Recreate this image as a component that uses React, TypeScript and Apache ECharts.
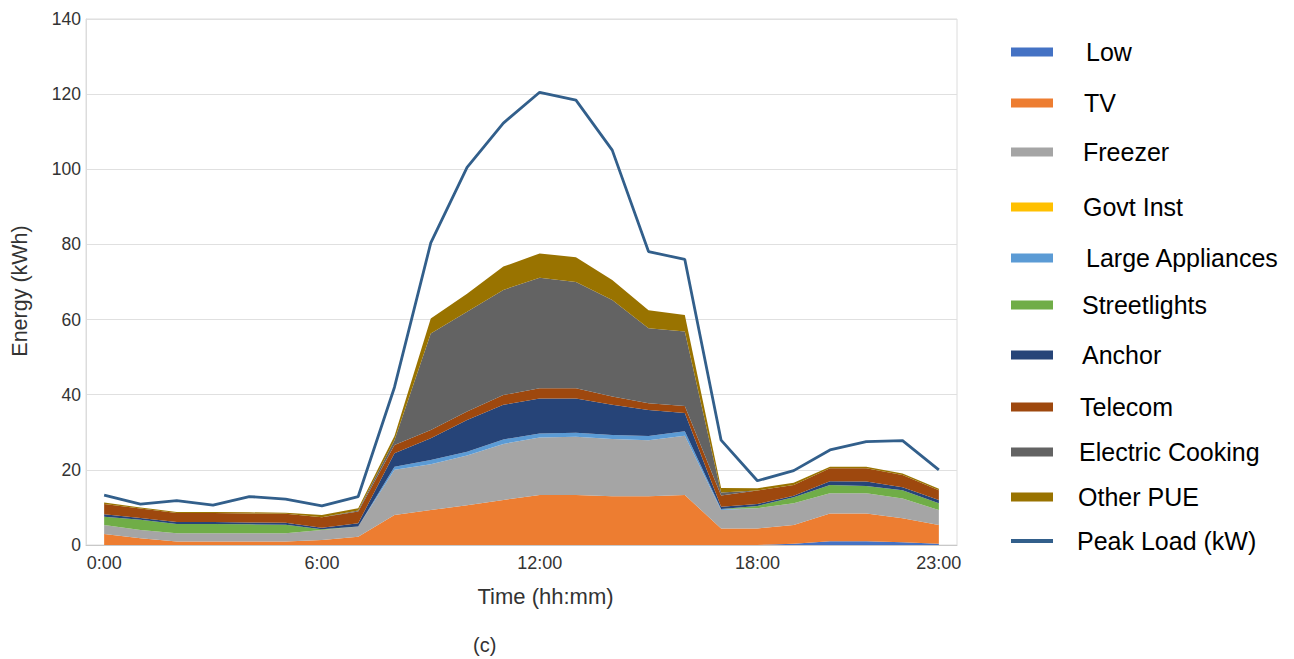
import React, { useEffect, useRef } from "react";
import * as echarts from "echarts";

// Hourly time axis
const hours: string[] = [
  "0:00", "1:00", "2:00", "3:00", "4:00", "5:00", "6:00", "7:00",
  "8:00", "9:00", "10:00", "11:00", "12:00", "13:00", "14:00", "15:00",
  "16:00", "17:00", "18:00", "19:00", "20:00", "21:00", "22:00", "23:00",
];
const labelledHours: number[] = [0, 6, 12, 18, 23];
const yTicks: number[] = [0, 20, 40, 60, 80, 100, 120, 140];

// Energy per load class (kWh), stacked from bottom to top
const low: number[] = [0, 0, 0, 0, 0, 0, 0, 0, 0, 0, 0, 0, 0, 0, 0, 0, 0, 0, 0, 0.3, 1.0, 1.0, 0.7, 0.3];
const tv: number[] = [2.9, 1.8, 0.9, 0.9, 0.9, 0.9, 1.3, 2.2, 8.0, 9.3, 10.6, 12.0, 13.3, 13.3, 13.0, 13.0, 13.3, 4.4, 4.4, 5.0, 7.4, 7.4, 6.4, 5.0];
const freezer: number[] = [2.4, 2.2, 2.2, 2.2, 2.2, 2.2, 2.7, 2.7, 12.0, 12.2, 13.2, 14.9, 15.3, 15.5, 15.2, 14.9, 15.8, 4.9, 5.4, 5.8, 5.4, 5.4, 5.3, 4.0];
const govtInst: number[] = [0, 0, 0, 0, 0, 0, 0, 0, 0, 0, 0, 0, 0, 0, 0, 0, 0, 0, 0, 0, 0, 0, 0, 0];
const largeAppliances: number[] = [0, 0, 0, 0, 0, 0, 0, 0, 0.8, 1.1, 1.0, 1.2, 1.1, 1.1, 1.1, 1.1, 1.2, 0.3, 0, 0, 0, 0, 0, 0];
const streetlights: number[] = [2.2, 2.7, 2.5, 2.5, 2.4, 2.3, 0.2, 0, 0, 0, 0, 0, 0, 0, 0, 0, 0, 0, 0.6, 1.6, 2.2, 1.9, 2.2, 1.8];
const anchor: number[] = [0.7, 0.5, 0.5, 0.5, 0.5, 0.5, 0.4, 0.9, 3.6, 5.8, 8.5, 9.2, 9.3, 9.1, 8.0, 6.9, 4.8, 0.6, 0.5, 0.4, 1.0, 1.2, 0.8, 0.9];
const telecom: number[] = [2.7, 2.5, 2.4, 2.4, 2.4, 2.4, 2.8, 3.1, 2.2, 2.2, 2.2, 2.6, 2.7, 2.7, 2.2, 1.8, 1.9, 3.0, 3.6, 2.9, 3.4, 3.5, 3.2, 2.6];
const electricCooking: number[] = [0, 0, 0, 0, 0, 0, 0, 0.3, 1.3, 25.7, 26.6, 28.0, 29.4, 28.3, 25.7, 20.0, 19.8, 0.8, 0, 0, 0, 0, 0, 0];
const otherPue: number[] = [0.4, 0.3, 0.3, 0.3, 0.3, 0.3, 0.6, 0.6, 1.1, 4.0, 4.8, 6.2, 6.5, 6.6, 5.3, 4.8, 4.4, 1.2, 0.6, 0.6, 0.4, 0.4, 0.4, 0.4];

// Peak load (kW)
const peakLoad: number[] = [13.3, 10.9, 11.8, 10.6, 12.9, 12.2, 10.4, 12.9, 42.0, 80.4, 100.5, 112.3, 120.5, 118.4, 105.1, 78.1, 76.0, 27.9, 17.1, 19.8, 25.3, 27.5, 27.8, 20.0];

const areaNames: string[] = [
  "Low", "TV", "Freezer", "Govt Inst", "Large Appliances", "Streetlights",
  "Anchor", "Telecom", "Electric Cooking", "Other PUE",
];
const areaColors: string[] = [
  "#4472c4", "#ed7d31", "#a5a5a5", "#ffc000", "#5b9bd5", "#70ad47",
  "#264478", "#9e480e", "#636363", "#997300",
];
const areaData: number[][] = [
  low, tv, freezer, govtInst, largeAppliances, streetlights,
  anchor, telecom, electricCooking, otherPue,
];
const peakName = "Peak Load (kW)";
const peakColor = "#325f8b";

// Legend rows: vertical centre of each swatch and left edge of its label
const legendRowY: number[] = [52, 103, 152, 207, 258, 305, 355, 407, 452, 497, 541];
const legendTextX: number[] = [1086, 1084, 1083, 1083, 1086, 1082, 1082, 1080, 1079, 1078, 1077];

const FONT = "'Liberation Sans', Arial, Helvetica, sans-serif";

export default function App() {
  const ref = useRef<HTMLDivElement>(null);

  useEffect(() => {
    if (!ref.current) return;
    const chart = echarts.init(ref.current, null, { renderer: "svg" });

    const legendNames = [...areaNames, peakName];
    const legendColors = [...areaColors, peakColor];
    const legendGraphics: any[] = [];
    legendNames.forEach((name, i) => {
      const isLine = i === legendNames.length - 1;
      const h = isLine ? 4 : 9;
      legendGraphics.push({
        type: "rect",
        left: 1011,
        top: legendRowY[i] - h / 2,
        shape: { width: 42, height: h },
        style: { fill: legendColors[i] },
        silent: true,
      });
      legendGraphics.push({
        type: "text",
        left: legendTextX[i],
        top: legendRowY[i] - 13,
        style: {
          text: name,
          fill: "#000000",
          font: `25px ${FONT}`,
        },
        silent: true,
      });
    });

    const series: any[] = areaNames.map((name, i) => ({
      name,
      type: "line",
      stack: "energy",
      data: areaData[i],
      symbol: "none",
      showSymbol: false,
      lineStyle: { width: 0, color: areaColors[i] },
      itemStyle: { color: areaColors[i] },
      areaStyle: { color: areaColors[i], opacity: 1 },
      z: 2,
    }));
    series.push({
      name: peakName,
      type: "line",
      data: peakLoad,
      symbol: "none",
      showSymbol: false,
      lineStyle: { width: 2.8, color: peakColor },
      itemStyle: { color: peakColor },
      z: 5,
    });

    chart.setOption({
      animation: false,
      backgroundColor: "#ffffff",
      textStyle: { fontFamily: FONT },
      grid: {
        left: 86,
        right: 337,
        top: 19,
        bottom: 114,
        show: true,
        borderColor: "#dcdcdc",
        borderWidth: 1,
      },
      xAxis: {
        type: "category",
        data: hours,
        boundaryGap: true,
        axisLine: { show: true, lineStyle: { color: "#c8c8c8", width: 1 } },
        axisTick: { show: false },
        splitLine: { show: false },
        axisLabel: {
          interval: (idx: number) => labelledHours.includes(idx),
          color: "#333333",
          fontSize: 18,
          fontFamily: FONT,
          margin: 9,
        },
        name: "Time (hh:mm)",
        nameLocation: "middle",
        nameGap: 40,
        nameTextStyle: {
          color: "#333333",
          fontSize: 22,
          fontFamily: FONT,
          padding: [0, 0, 0, 48],
        },
      },
      yAxis: {
        type: "value",
        min: yTicks[0],
        max: yTicks[yTicks.length - 1],
        interval: 20,
        axisLine: { show: true, lineStyle: { color: "#dcdcdc" } },
        axisTick: { show: false },
        splitLine: { show: true, lineStyle: { color: "#e0e0e0", width: 1 } },
        axisLabel: {
          color: "#333333",
          fontSize: 17.5,
          fontFamily: FONT,
          margin: 5,
        },
        name: "Energy (kWh)",
        nameLocation: "middle",
        nameGap: 55,
        nameRotate: 90,
        nameTextStyle: {
          color: "#333333",
          fontSize: 21.5,
          fontFamily: FONT,
          padding: [0, 18, 0, 0],
        },
      },
      graphic: [
        ...legendGraphics,
        {
          type: "text",
          left: 473,
          top: 635,
          style: { text: "(c)", fill: "#333333", font: `20px ${FONT}` },
          silent: true,
        },
      ],
      series,
    });

    return () => chart.dispose();
  }, []);

  return (
    <div
      ref={ref}
      style={{ position: "fixed", left: 0, top: 0, width: 1294, height: 659, background: "#fff" }}
    />
  );
}
